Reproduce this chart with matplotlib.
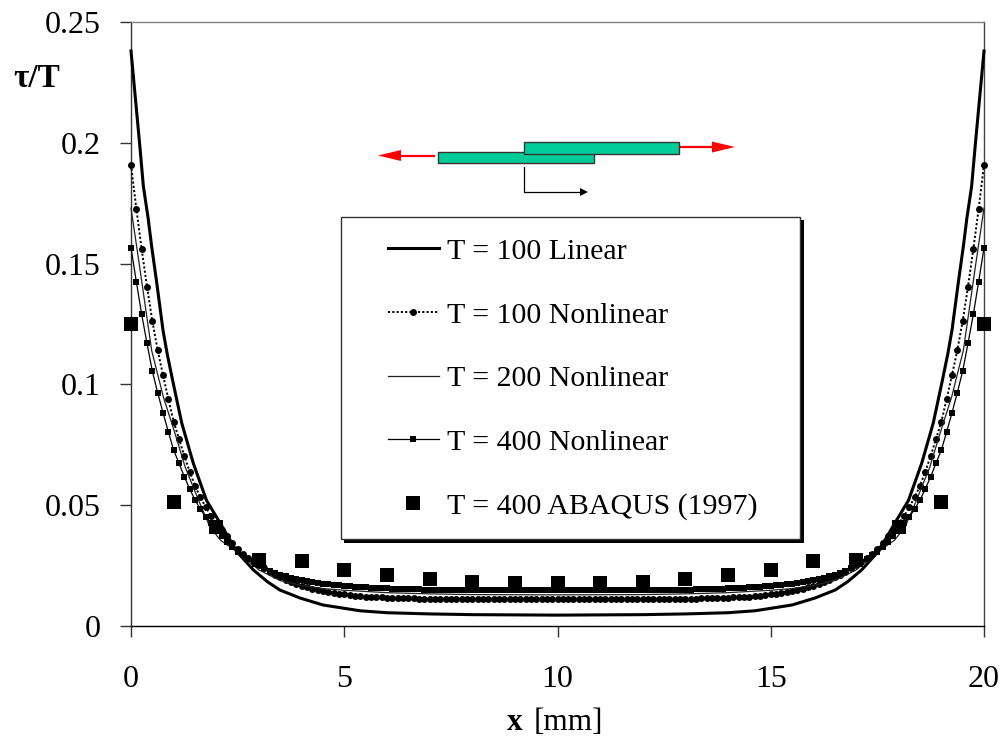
import matplotlib
matplotlib.use("Agg")
import matplotlib.pyplot as plt
from matplotlib.patches import Rectangle, Polygon
from matplotlib.lines import Line2D
from matplotlib.transforms import Affine2D

plt.rcParams["font.family"] = ["Liberation Serif", "DejaVu Serif"]

# marker series are sampled every 0.125 mm
x_grid = [
    0, 0.125, 0.25, 0.375, 0.5, 0.625, 0.75, 0.875, 1, 1.125,
    1.25, 1.375, 1.5, 1.625, 1.75, 1.875, 2, 2.125, 2.25, 2.375,
    2.5, 2.625, 2.75, 2.875, 3, 3.125, 3.25, 3.375, 3.5, 3.625,
    3.75, 3.875, 4, 4.125, 4.25, 4.375, 4.5, 4.625, 4.75, 4.875,
    5, 5.125, 5.25, 5.375, 5.5, 5.625, 5.75, 5.875, 6, 6.125,
    6.25, 6.375, 6.5, 6.625, 6.75, 6.875, 7, 7.125, 7.25, 7.375,
    7.5, 7.625, 7.75, 7.875, 8, 8.125, 8.25, 8.375, 8.5, 8.625,
    8.75, 8.875, 9, 9.125, 9.25, 9.375, 9.5, 9.625, 9.75, 9.875,
    10,
    10.125, 10.25, 10.375, 10.5, 10.625, 10.75, 10.875, 11, 11.125, 11.25,
    11.375, 11.5, 11.625, 11.75, 11.875, 12, 12.125, 12.25, 12.375, 12.5,
    12.625, 12.75, 12.875, 13, 13.125, 13.25, 13.375, 13.5, 13.625, 13.75,
    13.875, 14, 14.125, 14.25, 14.375, 14.5, 14.625, 14.75, 14.875, 15,
    15.125, 15.25, 15.375, 15.5, 15.625, 15.75, 15.875, 16, 16.125, 16.25,
    16.375, 16.5, 16.625, 16.75, 16.875, 17, 17.125, 17.25, 17.375, 17.5,
    17.625, 17.75, 17.875, 18, 18.125, 18.25, 18.375, 18.5, 18.625, 18.75,
    18.875, 19, 19.125, 19.25, 19.375, 19.5, 19.625, 19.75, 19.875, 20,
]

t100_nonlinear = [
    .191, .1727, .156, .1405, .1262, .1142, .1039, .094, .0846, .0774,
    .0704, .0639, .058, .0534, .0492, .0455, .0425, .0398, .0372, .0344,
    .0318, .0298, .0282, .0267, .0252, .0238, .0225, .0213, .0202, .0192,
    .0183, .0175, .0167, .0161, .0155, .015, .0145, .0141, .0137, .0134,
    .0131, .0128, .0126, .0124, .0122, .0121, .0119, .0118, .0117, .0116,
    .0115, .0115, .0114, .0114, .0113, .0113, .0112, .0112, .0111, .0111,
    .0111, .0111, .0111, .0111, .0111, .0111, .0111, .0111, .0111, .0111,
    .011, .011, .011, .011, .011, .011, .011, .011, .011, .011,
    .011,
    .011, .011, .011, .011, .011, .011, .011, .011, .011, .011,
    .0111, .0111, .0111, .0111, .0111, .0111, .0111, .0111, .0111, .0111,
    .0111, .0111, .0112, .0112, .0113, .0113, .0114, .0114, .0115, .0115,
    .0116, .0117, .0118, .0119, .0121, .0122, .0124, .0126, .0128, .0131,
    .0134, .0137, .0141, .0145, .015, .0155, .0161, .0167, .0175, .0183,
    .0192, .0202, .0213, .0225, .0238, .0252, .0267, .0282, .0298, .0318,
    .0344, .0372, .0398, .0425, .0455, .0492, .0534, .058, .0639, .0704,
    .0774, .0846, .094, .1039, .1142, .1262, .1405, .156, .1727, .191,
]

t400_nonlinear = [
    .1566, .1425, .129, .117, .1055, .0966, .0883, .0804, .0728, .0674,
    .0618, .0568, .0522, .0484, .0452, .0426, .0397, .0372, .0349, .0328,
    .0308, .0292, .0277, .0263, .0251, .024, .0228, .0219, .0211, .0205,
    .0199, .0194, .019, .0186, .0182, .0178, .0175, .0172, .017, .0168,
    .0166, .0164, .0163, .0161, .016, .0159, .0158, .0157, .0156, .0155,
    .0154, .0153, .0153, .0152, .0152, .0151, .0151, .015, .015, .015,
    .015, .015, .015, .015, .015, .015, .015, .015, .015, .015,
    .015, .015, .015, .015, .015, .015, .015, .015, .015, .015,
    .015,
    .015, .015, .015, .015, .015, .015, .015, .015, .015, .015,
    .015, .015, .015, .015, .015, .015, .015, .015, .015, .015,
    .015, .015, .015, .0151, .0151, .0152, .0152, .0153, .0153, .0154,
    .0155, .0156, .0157, .0158, .0159, .016, .0161, .0163, .0164, .0166,
    .0168, .017, .0172, .0175, .0178, .0182, .0186, .019, .0194, .0199,
    .0205, .0211, .0219, .0228, .024, .0251, .0263, .0277, .0292, .0308,
    .0328, .0349, .0372, .0397, .0426, .0452, .0484, .0522, .0568, .0618,
    .0674, .0728, .0804, .0883, .0966, .1055, .117, .129, .1425, .1566,
]

x_linear = [0, .1, .2, .29, .4, .485, .6, .75, .85, .99, 1.19, 1.46, 1.77, 2.09, 2.48, 2.87, 3.2,
            3.49, 3.96, 4.5, 5.37, 6, 7, 8, 10,
            12, 13, 14, 14.63, 15.5, 16.04, 16.51, 16.8, 17.13, 17.52, 17.91, 18.23, 18.54, 18.81,
            19.01, 19.15, 19.25, 19.4, 19.515, 19.6, 19.71, 19.8, 19.9, 20]
t100_linear = [.238, .219, .2, .182, .169, .157, .1425, .1225, .1125, .1005, .084, .0674, .052, .0426, .0308, .0232, .0183,
               .0149, .0116, .0087, .0063, .0055, .005, .0047, .0045,
               .0047, .005, .0055, .0063, .0087, .0116, .0149, .0183, .0232, .0308, .0426, .052, .0674, .084,
               .1005, .1125, .1225, .1425, .157, .169, .182, .2, .219, .238]

x_t200 = [0, .1, .2, .33, .485, .757, 1.03, 1.27, 1.58, 1.85, 2.1, 2.5, 3, 3.5, 4, 4.5, 5, 6, 7, 8, 10,
          12, 13, 14, 15, 15.5, 16, 16.5, 17, 17.5, 17.9, 18.15, 18.42, 18.73, 18.97, 19.243, 19.515, 19.67, 19.8, 19.9, 20]
t200_nonlinear = [.173, .161, .149, .133, .114, .0949, .0798, .0658, .0522, .041, .0355, .0305, .0232, .0188, .0168, .0155, .0148, .0138, .0133, .013, .0129,
                  .013, .0133, .0138, .0148, .0155, .0168, .0188, .0232, .0305, .0355, .041, .0522, .0658, .0798, .0949, .114, .133, .149, .161, .173]

x_abaqus = list(range(21))
t400_abaqus = [.125, .0515, .041, .0272, .0269, .0232, .0212, .0195, .0182, .0178, .0178,
               .0178, .0182, .0195, .0212, .0232, .0269, .0272, .041, .0515, .125]

x_ticks = [0, 5, 10, 15, 20]
y_ticks = [0, 0.05, 0.1, 0.15, 0.2, 0.25]
y_labels = ["0", "0.05", "0.1", "0.15", "0.2", "0.25"]

fig = plt.figure(figsize=(10, 7.38), dpi=100)
ax = fig.add_axes([131 / 1000, 1 - 626 / 738, 853 / 1000, 604 / 738])

# pixel coordinates of the picture, y downwards
px = Affine2D().scale(1 / 1000, -1 / 738).translate(0, 1) + fig.transFigure

ax.plot(x_linear, t100_linear, color="black", lw=2.2, clip_on=False, zorder=3, label="T = 100 Linear")
ax.plot(x_grid, t100_nonlinear, color="black", lw=1.4, ls=(0, (1.1, 1.1)), marker="o", ms=5, mew=0,
        clip_on=False, zorder=3, label="T = 100 Nonlinear")
ax.plot(x_t200, t200_nonlinear, color="#222222", lw=0.9, clip_on=False, zorder=3, label="T = 200 Nonlinear")
ax.plot(x_grid, t400_nonlinear, color="black", lw=0.9, marker="s", ms=4.5, mew=0,
        clip_on=False, zorder=3, label="T = 400 Nonlinear")
ax.plot(x_abaqus, t400_abaqus, ls="none", color="black", marker="s", ms=10, mew=0,
        clip_on=False, zorder=4, label="T = 400 ABAQUS (1997)")

ax.set_xlim(0, 20)
ax.set_ylim(0, 0.25)
ax.set_xticks(x_ticks)
ax.set_yticks(y_ticks)
ax.set_yticklabels(y_labels)
ax.tick_params(axis="both", direction="out", length=8, width=1, labelsize=23, color="#333333")
ax.tick_params(axis="x", pad=20)
ax.tick_params(axis="y", pad=14)
for side in ax.spines:
    ax.spines[side].set_linewidth(1)
ax.spines["left"].set_color("#333333")
ax.spines["right"].set_color("#444444")
ax.spines["top"].set_color("#808080")
ax.spines["bottom"].set_color("black")

# y label and x label with mixed weights
fig.text(13 / 1000, 1 - 87 / 738, "τ/T", fontsize=24, fontweight="bold", ha="left", va="baseline")
fig.text(507 / 1000, 1 - 730 / 738, "x", fontsize=22.5, fontweight="bold", ha="left", va="baseline")
fig.text(534 / 1000, 1 - 730 / 738, "[mm]", fontsize=22.5, ha="left", va="baseline")

# legend box with its hard shadow
fig.add_artist(Rectangle((344, 220), 460, 323, transform=px, fc="black", ec="black", lw=0, zorder=5))
fig.add_artist(Rectangle((340.5, 216.5), 459.5, 322.5, transform=px, fc="white", ec="#333333", lw=1, zorder=6))
leg = fig.legend(*ax.get_legend_handles_labels(), loc="upper left", bbox_to_anchor=(388, 238), bbox_transform=px,
                 frameon=False, fontsize=21.5, numpoints=1, borderpad=0, borderaxespad=0,
                 handlelength=1.7, handletextpad=0.27, labelspacing=1.23)
leg.set_zorder(7)

# lap joint sketch above the legend
green = "#00CC99"
fig.add_artist(Rectangle((437.5, 152), 156, 10.5, transform=px, fc=green, ec="#333333", lw=1, zorder=2))
fig.add_artist(Rectangle((523.5, 141.5), 155.5, 12, transform=px, fc=green, ec="#333333", lw=1, zorder=3))
fig.add_artist(Line2D([401, 434], [155.5, 155.5], transform=px, color="red", lw=1.6))
fig.add_artist(Polygon([(378, 155.5), (401, 150), (401, 161)], closed=True, transform=px, fc="red", ec="none"))
fig.add_artist(Line2D([679, 712], [147, 147], transform=px, color="red", lw=1.6))
fig.add_artist(Polygon([(735, 147), (712, 141.5), (712, 152.5)], closed=True, transform=px, fc="red", ec="none"))
fig.add_artist(Line2D([523.5, 523.5, 581], [167, 192, 192], transform=px, color="black", lw=0.9))
fig.add_artist(Polygon([(588, 192), (580, 188), (580, 196)], closed=True, transform=px, fc="black", ec="none"))

fig.savefig("out.png", dpi=100)
